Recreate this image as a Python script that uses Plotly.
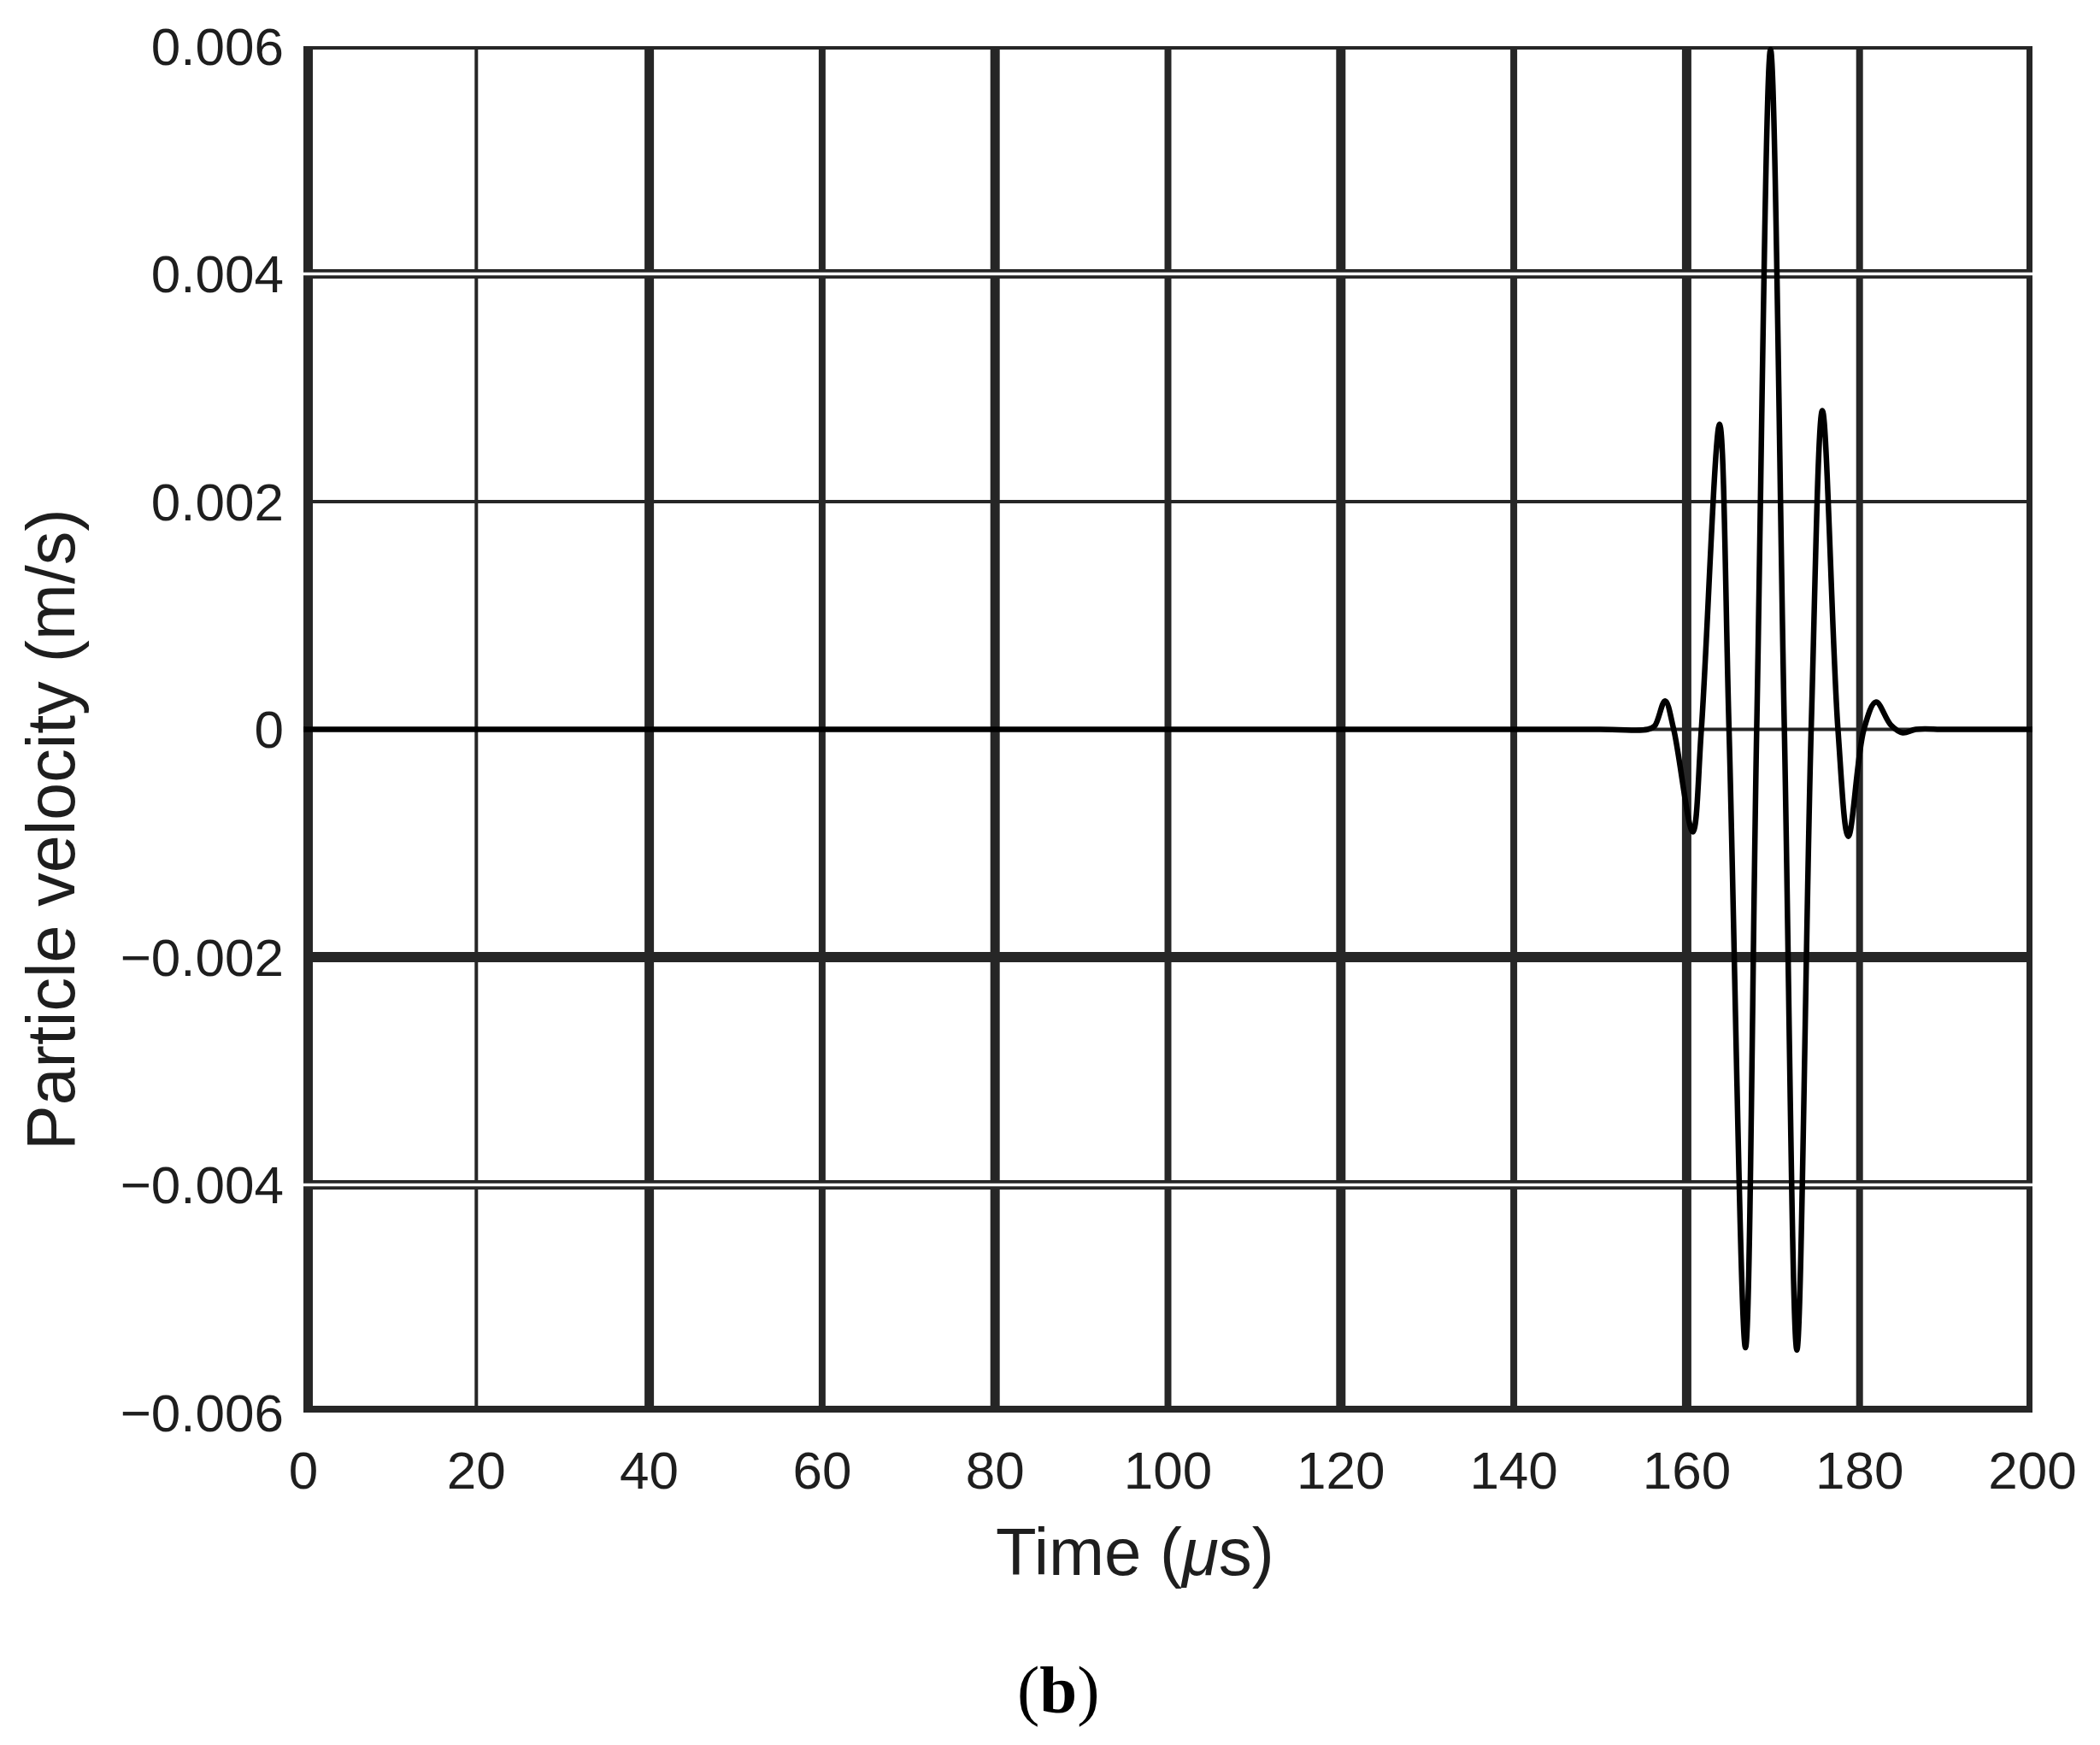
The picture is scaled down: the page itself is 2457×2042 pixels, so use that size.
"""Particle velocity waveform (tone burst) recorded at the receiver, panel (b)."""

import plotly.graph_objects as go

# Values
TIME_US = [0, 150, 155.5, 156.3, 157.5, 158.5, 160.7, 161.7, 163.8, 164.9,
           166.8, 168.1, 169.7, 171.3, 172.75, 174.4, 175.7, 177.5, 178.7,
           180.5, 181.9, 183.6, 185.0, 186.5, 190, 200]
VELOCITY = [0, 0, 0, 0.00003, 0.00025, 0, -0.0009, 0, 0.00268, 0,
            -0.00543, 0, 0.00597, 0, -0.00545, 0, 0.0028, 0, -0.00094,
            0, 0.00024, 0.00004, -0.00003, 0, 0, 0]

X_TICKS = [0, 20, 40, 60, 80, 100, 120, 140, 160, 180, 200]
Y_TICKS = [-0.006, -0.004, -0.002, 0, 0.002, 0.004, 0.006]
Y_TICK_TEXT = ["\u22120.006", "\u22120.004", "\u22120.002", "0", "0.002", "0.004", "0.006"]

# grid line weights as they appear in the scanned figure
# (edge lines are doubled because half of them is clipped by the plot area)
X_GRID_WIDTH = {0: 22, 20: 4, 40: 11, 60: 8, 80: 11, 100: 8, 120: 11,
                140: 8, 160: 11, 180: 8, 200: 14}
Y_GRID_WIDTH = {-0.006: 16, -0.004: 11, -0.002: 12, 0: 4, 0.002: 4,
                0.004: 11, 0.006: 8}
Y_GRID_DOUBLE = [-0.004, 0.004]

GRID_COLOR = "#262626"
FONT = "Liberation Sans, Arial, sans-serif"

fig = go.Figure()
fig.add_trace(go.Scatter(
    x=TIME_US,
    y=VELOCITY,
    mode="lines",
    line={"color": "#000000", "width": 6.5, "shape": "spline", "smoothing": 1.0},
    hoverinfo="skip",
    showlegend=False,
))

shapes = []
for t in X_TICKS:
    shapes.append(dict(type="line", xref="x", yref="paper", x0=t, x1=t, y0=0, y1=1,
                       line={"color": GRID_COLOR, "width": X_GRID_WIDTH[t]}, layer="below"))
for v in Y_TICKS:
    shapes.append(dict(type="line", xref="paper", yref="y", x0=0, x1=1, y0=v, y1=v,
                       line={"color": GRID_COLOR, "width": Y_GRID_WIDTH[v]}, layer="below"))
for v in Y_GRID_DOUBLE:
    shapes.append(dict(type="line", xref="paper", yref="y", x0=0, x1=1, y0=v, y1=v,
                       line={"color": "#ffffff", "width": 3.5}, layer="below"))

# margins account for the 8px body margin of the html page
fig.update_layout(
    width=2457,
    height=2042,
    margin={"l": 347, "r": 87, "t": 46, "b": 397},
    paper_bgcolor="white",
    plot_bgcolor="white",
    font={"family": FONT, "color": "#1e1e1e"},
    shapes=shapes,
    annotations=[
        dict(text="Time (<i>\u03bc</i>s)", xref="paper", yref="paper",
             x=0.481, y=-0.102, xanchor="center", yanchor="middle",
             showarrow=False, font={"size": 78, "family": FONT, "color": "#1e1e1e"}),
        dict(text="Particle velocity (m/s)", xref="paper", yref="paper",
             x=-0.146, y=0.4269, xanchor="center", yanchor="middle", textangle=-90,
             showarrow=False, font={"size": 79, "family": FONT, "color": "#1e1e1e"}),
        dict(text="(<b>b</b>)", xref="paper", yref="paper",
             x=0.4367, y=-0.203, xanchor="center", yanchor="middle",
             showarrow=False,
             font={"size": 79, "family": "Liberation Serif, Times New Roman, serif",
                   "color": "#000000"}),
    ],
)
fig.update_xaxes(
    range=[0, 200],
    tickvals=X_TICKS,
    ticks="",
    showgrid=False,
    zeroline=False,
    showline=False,
    ticklabelstandoff=26,
    tickfont={"size": 62, "family": FONT, "color": "#1e1e1e"},
)
fig.update_yaxes(
    range=[-0.006, 0.006],
    tickvals=Y_TICKS,
    ticktext=Y_TICK_TEXT,
    ticks="",
    showgrid=False,
    zeroline=False,
    showline=False,
    ticklabelstandoff=22,
    tickfont={"size": 62, "family": FONT, "color": "#1e1e1e"},
)

fig.write_html("out.html")
